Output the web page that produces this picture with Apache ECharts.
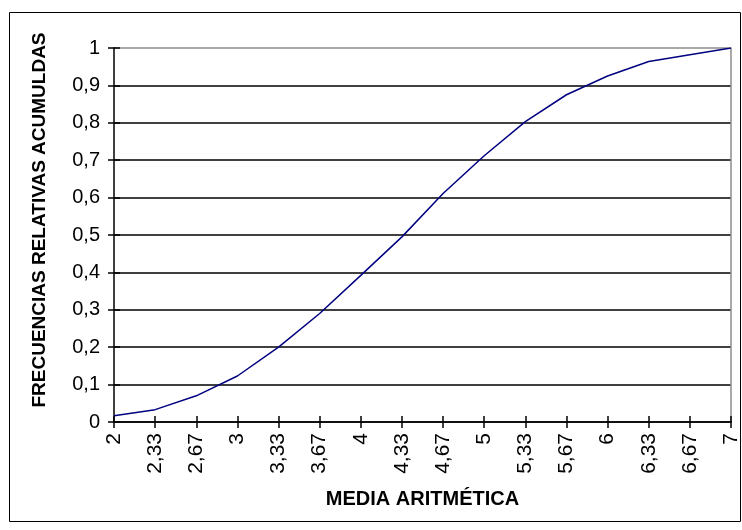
<!DOCTYPE html>
<html>
<head>
<meta charset="utf-8">
<script src="https://cdn.jsdelivr.net/npm/echarts@6/dist/echarts.min.js"></script>
<style>
  html, body { margin: 0; padding: 0; background: #ffffff; }
  #chart { width: 742px; height: 530px; }
</style>
</head>
<body>
<div id="chart"></div>
<script>
// Sample-mean values on the horizontal axis
const categories = ['2', '2,33', '2,67', '3', '3,33', '3,67', '4', '4,33', '4,67', '5', '5,33', '5,67', '6', '6,33', '6,67', '7'];
// Cumulative relative frequencies for each mean
const cumulativeFreq = [0.017, 0.033, 0.070, 0.123, 0.200, 0.290, 0.392, 0.495, 0.611, 0.712, 0.803, 0.875, 0.925, 0.964, 0.982, 1.0];

const xTitle = 'MEDIA ARITMÉTICA';
const yTitle = 'FRECUENCIAS RELATIVAS ACUMULDAS';

const FONT = '"Liberation Sans", Arial, sans-serif';

const chart = echarts.init(document.getElementById('chart'), null, { renderer: 'canvas' });

// Gridlines: black except the top one, which is the grey plot-area edge
const splitColors = ['#000', '#000', '#000', '#000', '#000', '#000', '#000', '#000', '#000', '#000', '#8c8c8c'];

const yBase = { type: 'value', min: 0, max: 1, interval: 0.1 };

chart.setOption({
  animation: false,
  backgroundColor: '#ffffff',
  grid: { left: 114, right: 11, top: 48, bottom: 108, containLabel: false },
  graphic: [{
    type: 'rect',
    shape: { x: 9.5, y: 12.5, width: 731, height: 509 },
    style: { fill: 'none', stroke: '#000', lineWidth: 1 },
    silent: true
  }, {
    // vertical axis title, placed in the left margin
    type: 'text',
    x: 40, y: 220,
    rotation: Math.PI / 2,
    style: {
      text: yTitle,
      fontFamily: FONT, fontSize: 19, fontWeight: 'bold', fill: '#000',
      align: 'center', verticalAlign: 'middle'
    },
    silent: true
  }],
  xAxis: [{
    type: 'category',
    data: categories,
    boundaryGap: false,
    name: xTitle,
    nameLocation: 'middle',
    nameGap: 67,
    nameTextStyle: { fontFamily: FONT, fontSize: 20, fontWeight: 'bold', color: '#000' },
    axisLine: { lineStyle: { color: '#000', width: 1.5 } },
    axisTick: { show: true, inside: false, length: 6, alignWithLabel: true, lineStyle: { color: '#000', width: 1.5 } },
    axisLabel: {
      interval: 0, rotate: 90, margin: 11,
      fontFamily: FONT, fontSize: 21, color: '#000'
    },
    splitLine: { show: false }
  }, {
    type: 'category',
    data: categories,
    boundaryGap: false,
    position: 'bottom',
    axisLine: { show: false },
    axisTick: { show: true, inside: true, length: 6, lineStyle: { color: '#000', width: 1.5 } },
    axisLabel: { show: false },
    splitLine: { show: false }
  }],
  yAxis: [Object.assign({}, yBase, {
    axisLine: { show: true, lineStyle: { color: '#000', width: 1.5 } },
    axisTick: { show: true, inside: false, length: 6, lineStyle: { color: '#000', width: 1.5 } },
    axisLabel: {
      margin: 14, fontFamily: FONT, fontSize: 20, color: '#000',
      formatter: v => String(Math.round(v * 10) / 10).replace('.', ',')
    },
    splitLine: { show: true, lineStyle: { color: splitColors, width: 1.5 } }
  }), Object.assign({}, yBase, {
    position: 'left',
    axisLine: { show: false },
    axisTick: { show: true, inside: true, length: 6, lineStyle: { color: '#000', width: 1.5 } },
    axisLabel: { show: false },
    splitLine: { show: false }
  }), Object.assign({}, yBase, {
    position: 'right',
    axisLine: { show: true, lineStyle: { color: '#8c8c8c', width: 1.5 } },
    axisTick: { show: false },
    axisLabel: { show: false },
    splitLine: { show: false }
  })],
  series: [{
    type: 'line',
    data: cumulativeFreq,
    xAxisIndex: 0,
    yAxisIndex: 0,
    showSymbol: false,
    symbol: 'none',
    lineStyle: { color: '#000080', width: 1.5 },
    z: 5
  }]
});
</script>
</body>
</html>
